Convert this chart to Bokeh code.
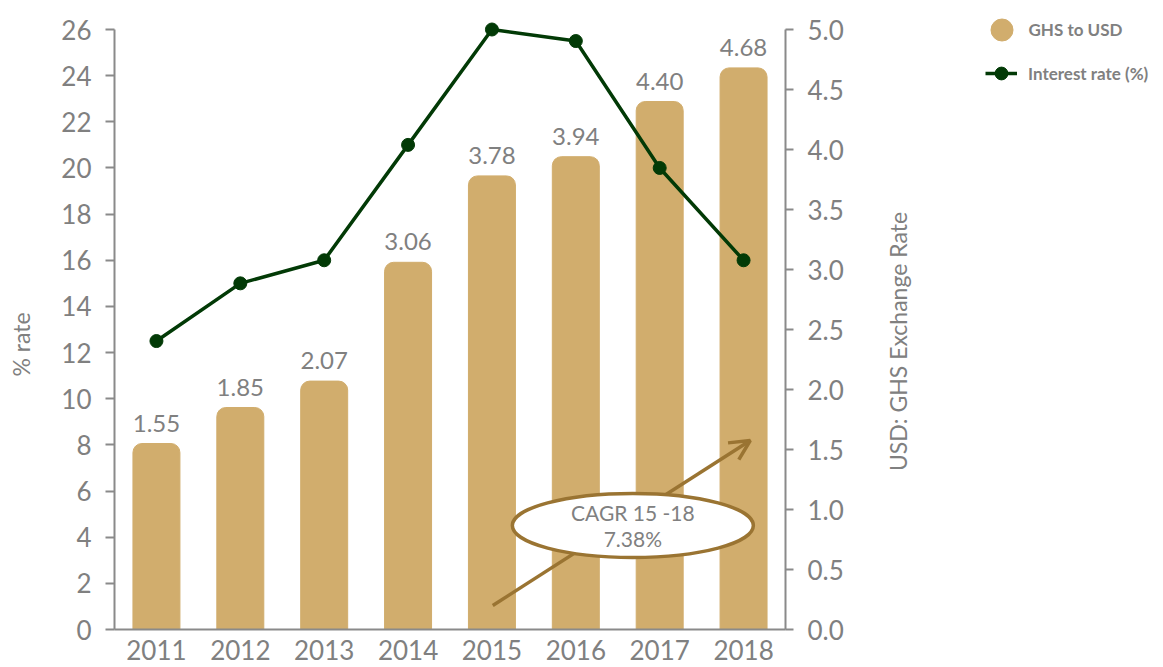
import math
from bokeh.plotting import figure
from bokeh.layouts import row
from bokeh.models import (FactorRange, Range1d, LinearAxis, ColumnDataSource, Legend, LegendItem,
                          Label, Arrow, OpenHead, FixedTicker, NumeralTickFormatter)
from bokeh.embed import file_html
from bokeh.resources import INLINE
from bokeh.core.properties import value

# ---- data ----
years = ["2011", "2012", "2013", "2014", "2015", "2016", "2017", "2018"]
ghs_to_usd = [1.55, 1.85, 2.07, 3.06, 3.78, 3.94, 4.40, 4.68]
ghs_labels = ["1.55", "1.85", "2.07", "3.06", "3.78", "3.94", "4.40", "4.68"]
interest_rate = [12.5, 15.0, 16.0, 21.0, 26.0, 25.5, 20.0, 16.0]
left_ticks = list(range(0, 27, 2))
right_ticks = [0.0, 0.5, 1.0, 1.5, 2.0, 2.5, 3.0, 3.5, 4.0, 4.5, 5.0]
cagr_lines = ["CAGR 15 -18", "7.38%"]
series_names = ["GHS to USD", "Interest rate (%)"]
right_axis_title = "USD: GHS Exchange Rate"
left_axis_title = "% rate"

# ---- styles ----
FONT = "Lato"
GREY = "#808080"
AXIS_GREY = "#8a8a8a"
BAR = "#d1ad6d"
GREEN = "#023a06"
BROWN = "#9a7432"

LEFT_W = 40
MAIN_W = 847 - LEFT_W
AXIS_TOP = 29          # pixel where the 26 / 5.0 ticks sit
FRAME_BOTTOM = 629
PLOT_H = 600           # pixel height between 0 and the top tick
ext = FRAME_BOTTOM / PLOT_H   # frame spans from 0 px to the axis bottom

src = ColumnDataSource(dict(year=years, ghs=ghs_to_usd, lab=ghs_labels, rate=interest_rate))

p = figure(x_range=FactorRange(factors=years), y_range=Range1d(0, 26 * ext),
           frame_width=671, frame_height=FRAME_BOTTOM,
           min_border_left=114 - LEFT_W, min_border_top=0, min_border_right=MAIN_W - (114 - LEFT_W) - 671,
           min_border_bottom=38,
           output_backend="svg", toolbar_location=None)
p.extra_y_ranges = {"fx": Range1d(0, 5 * ext)}
p.outline_line_color = None
p.xgrid.grid_line_color = None
p.ygrid.grid_line_color = None
p.border_fill_color = "white"

# bars
p.vbar(x="year", top="ghs", width=0.56, source=src, y_range_name="fx",
       fill_color=BAR, line_color=BAR, border_radius=(9, 9, 0, 0))
p.text(x="year", y="ghs", text="lab", source=src, y_range_name="fx",
       text_align="center", text_baseline="bottom", y_offset=-12,
       text_font=value(FONT), text_font_size="24px", text_color=GREY)

# line
p.line(x="year", y="rate", source=src, line_color=GREEN, line_width=3.5)
p.scatter(x="year", y="rate", source=src, size=13, fill_color=GREEN, line_color=GREEN)

# annotation: arrow + ellipse + text
arrow = Arrow(x_start=4.51, y_start=0.2, x_end=7.58, y_end=1.575, y_range_name="fx",
              line_color=BROWN, line_width=3.5,
              end=OpenHead(size=20, line_color=BROWN, line_width=3.5))
p.add_layout(arrow)
p.ellipse(x=[6.18], y=[0.867], width=241, height=64, width_units="screen", height_units="screen",
          y_range_name="fx", fill_color="white", line_color=BROWN, line_width=3.5, level="overlay")
for txt, yy in zip(cagr_lines, [0.975, 0.7625]):
    p.add_layout(Label(x=6.18, y=yy, y_range_name="fx", text=txt, text_align="center",
                       text_baseline="middle", text_font=FONT, text_font_size="21px",
                       text_color=GREY, level="overlay"))

# axes
def style_axis(ax):
    ax.axis_line_color = AXIS_GREY
    ax.axis_line_width = 2
    ax.major_tick_line_color = AXIS_GREY
    ax.major_tick_line_width = 2
    ax.minor_tick_line_color = None
    ax.major_label_text_font = FONT
    ax.major_label_text_font_size = "26px"
    ax.major_label_text_color = GREY

ya = p.yaxis[0]
style_axis(ya)
ya.ticker = FixedTicker(ticks=left_ticks)
ya.bounds = (0, 26)
ya.major_tick_out = 9
ya.major_tick_in = 0
ya.major_label_standoff = 14

xa = p.xaxis[0]
style_axis(xa)
xa.major_tick_line_color = None
xa.major_tick_out = 0
xa.major_tick_in = 0
xa.major_label_standoff = 10

ra = LinearAxis(y_range_name="fx", ticker=FixedTicker(ticks=right_ticks),
                formatter=NumeralTickFormatter(format="0.0"), bounds=(0, 5))
style_axis(ra)
ra.major_tick_out = 8
ra.major_tick_in = 0
ra.major_label_standoff = 14
p.add_layout(ra, "right")

def blank(w):
    f = figure(width=w, height=667, x_range=Range1d(0, 1), y_range=Range1d(0, 1),
               min_border=0, x_axis_type=None, y_axis_type=None,
               output_backend="svg", toolbar_location=None)
    f.outline_line_color = None
    f.xgrid.grid_line_color = None
    f.ygrid.grid_line_color = None
    return f

# ---- left panel: left-axis title ----
left = blank(LEFT_W)
left.add_layout(Label(x=20, y=FRAME_BOTTOM - 344, x_units="screen", y_units="screen",
                      text=left_axis_title, angle=math.pi / 2, text_align="center",
                      text_baseline="middle", text_font=FONT, text_font_size="23px",
                      text_color=GREY))

# ---- side panel: right-axis title and legend ----
X0 = LEFT_W + MAIN_W
side = blank(1163 - X0)
side.add_layout(Label(x=897.5 - X0, y=FRAME_BOTTOM - 341, x_units="screen", y_units="screen",
                      text=right_axis_title, angle=math.pi / 2,
                      text_align="center", text_baseline="middle", text_font=FONT,
                      text_font_size="23px", text_color=GREY))

# legend renderers (hidden; only their legend glyphs are shown)
r_bar = side.scatter(x="ghs", y="rate", source=src, marker="circle", fill_color=BAR,
                     line_color=BAR, visible=False)
r_line = side.line(x="ghs", y="rate", source=src, line_color=GREEN, line_width=3.5, visible=False)
r_dot = side.scatter(x="ghs", y="rate", source=src, marker="circle", fill_color=GREEN,
                     line_color=GREEN, visible=False)

common = dict(padding=0, margin=0, border_line_color=None, background_fill_alpha=0,
              label_text_font=FONT, label_text_font_size="17px", label_text_font_style="bold",
              label_text_color=GREY)
leg1 = Legend(items=[LegendItem(label=series_names[0], renderers=[r_bar])],
              location=(973.5 - X0, FRAME_BOTTOM - 56.5), glyph_width=55, glyph_height=55,
              label_standoff=0, **common)
leg2 = Legend(items=[LegendItem(label=series_names[1], renderers=[r_line, r_dot])],
              location=(985 - X0, FRAME_BOTTOM - 89), glyph_width=32, glyph_height=32,
              label_standoff=11, **common)
side.add_layout(leg1)
side.add_layout(leg2)

layout = row(left, p, side)
open("out.html", "w").write(file_html(layout, INLINE))
